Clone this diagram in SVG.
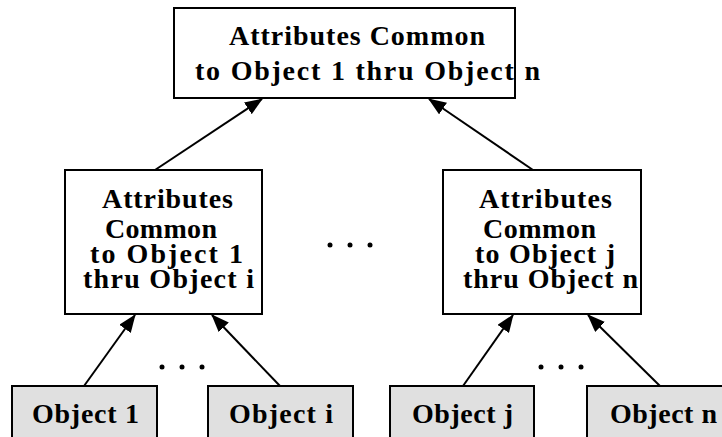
<svg xmlns="http://www.w3.org/2000/svg" width="722" height="437" viewBox="0 0 722 437">
<style>
.box{fill:#fff;stroke:#000;stroke-width:2}
.obj{fill:#e0e0e0;stroke:#000;stroke-width:2}
text{font-family:"Liberation Serif","Times New Roman",serif;font-weight:bold;font-size:28px;fill:#000}
.edge{stroke:#000;stroke-width:2;fill:none;marker-end:url(#ah)}
</style>
<defs>
<marker id="ah" markerUnits="userSpaceOnUse" markerWidth="18" markerHeight="14" refX="17" refY="7" orient="auto">
<path d="M0,0 L18,7 L0,14 Z" fill="#000"/>
</marker>
</defs>
<g id="top">
<rect class="box" x="174" y="8" width="341" height="90"/>
<text x="229" y="45" textLength="256" lengthAdjust="spacing">Attributes Common</text>
<text x="195" y="80" textLength="345" lengthAdjust="spacing">to Object 1 thru Object n</text>
</g>
<g id="mid-left">
<rect class="box" x="65" y="170" width="197" height="144"/>
<text x="102" y="208" textLength="131" lengthAdjust="spacing">Attributes</text>
<text x="105" y="238" textLength="112" lengthAdjust="spacing">Common</text>
<text x="90" y="263" textLength="153" lengthAdjust="spacing">to Object 1</text>
<text x="83" y="288" textLength="171" lengthAdjust="spacing">thru Object i</text>
</g>
<g id="mid-right">
<rect class="box" x="443" y="170" width="198" height="144"/>
<text x="479" y="208" textLength="133" lengthAdjust="spacing">Attributes</text>
<text x="483" y="238" textLength="113" lengthAdjust="spacing">Common</text>
<text x="475" y="263" textLength="140" lengthAdjust="spacing">to Object j</text>
<text x="463" y="288" textLength="175" lengthAdjust="spacing">thru Object n</text>
</g>
<g id="obj1">
<rect class="obj" x="12" y="386" width="145" height="60"/>
<text x="32" y="423" textLength="107" lengthAdjust="spacing">Object 1</text>
</g>
<g id="obji">
<rect class="obj" x="208" y="386" width="145" height="60"/>
<text x="229" y="423" textLength="104" lengthAdjust="spacing">Object i</text>
</g>
<g id="objj">
<rect class="obj" x="390" y="386" width="144" height="60"/>
<text x="412" y="423" textLength="101" lengthAdjust="spacing">Object j</text>
</g>
<g id="objn">
<rect class="obj" x="587" y="386" width="145" height="60"/>
<text x="610" y="423" textLength="107" lengthAdjust="spacing">Object n</text>
</g>
<g id="connectors">
<line class="edge" x1="155" y1="170" x2="262" y2="99"/>
<line class="edge" x1="533" y1="170" x2="429" y2="99"/>
<line class="edge" x1="84" y1="386" x2="135" y2="315"/>
<line class="edge" x1="280" y1="386" x2="212" y2="315"/>
<line class="edge" x1="463" y1="386" x2="513" y2="315"/>
<line class="edge" x1="660" y1="386" x2="588" y2="315"/>
</g>
<g id="dots" fill="#000">
<circle cx="330" cy="245" r="2.5"/><circle cx="350" cy="245" r="2.5"/><circle cx="370" cy="245" r="2.5"/>
<circle cx="162" cy="367" r="2.5"/><circle cx="182" cy="367" r="2.5"/><circle cx="202" cy="367" r="2.5"/>
<circle cx="541" cy="367" r="2.5"/><circle cx="561" cy="367" r="2.5"/><circle cx="581" cy="367" r="2.5"/>
</g>
</svg>
